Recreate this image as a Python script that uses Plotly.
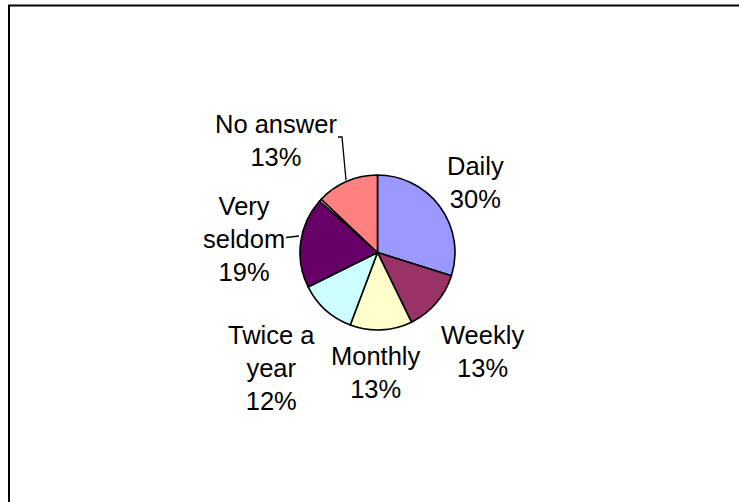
import plotly.graph_objects as go

# Survey: how often respondents use the service
categories = ["Daily", "Weekly", "Monthly", "Twice a year", "Very seldom", "", "No answer"]
values = [30, 13, 13, 12, 19, 0.5, 13]
label_lines = ["Daily", "Weekly", "Monthly", "Twice a<br>year", "Very<br>seldom", "", "No answer"]
colors = ["#9999FF", "#993366", "#FFFFCC", "#CCFFFF", "#660066", "#FFFFFF", "#FF8080"]

W, H = 739, 502


def px(x):
    return x / W


def py(y):
    return 1 - y / H


# pie placement in pixels
cx, cy, r = 377.5, 252.5, 77.5

# label anchor points (pixel centres of each text block)
label_pos = {
    "Daily": (475, 182),
    "Weekly": (482, 351),
    "Monthly": (376, 372),
    "Twice a year": (271, 368),
    "Very seldom": (244, 239),
    "No answer": (275.5, 140),
}

fig = go.Figure(
    go.Pie(
        labels=categories,
        values=values,
        marker=dict(colors=colors, line=dict(color="black", width=1.6)),
        sort=False,
        direction="clockwise",
        rotation=0,
        textinfo="none",
        hoverinfo="label+percent",
        showlegend=False,
        domain=dict(x=[px(cx - r), px(cx + r)], y=[py(cy + r), py(cy - r)]),
    )
)

annotations = []
for cat, lines, v in zip(categories, label_lines, values):
    if cat not in label_pos:
        continue
    x, y = label_pos[cat]
    annotations.append(
        dict(
            x=px(x), y=py(y), xref="paper", yref="paper",
            text=f"{lines}<br>{v:g}%", showarrow=False,
            xanchor="center", yanchor="middle", align="center",
            font=dict(family="Liberation Sans, Arial", size=25.5, color="black"),
        )
    )

shapes = [
    # chart frame
    dict(type="rect", xref="paper", yref="paper",
         x0=px(9), y0=py(5.5), x1=px(760), y1=py(520),
         line=dict(color="black", width=2)),
    # leader line for "No answer"
    dict(type="path", xref="paper", yref="paper",
         path=f"M {px(338)} {py(137)} L {px(342)} {py(137)} L {px(346)} {py(180)}",
         line=dict(color="black", width=1.3)),
    # leader line for "Very seldom"
    dict(type="line", xref="paper", yref="paper",
         x0=px(286), y0=py(237.5), x1=px(299), y1=py(236),
         line=dict(color="black", width=1.3)),
]

fig.update_layout(
    width=W, height=H,
    margin=dict(l=0, r=0, t=0, b=0),
    paper_bgcolor="white", plot_bgcolor="white",
    annotations=annotations,
    shapes=shapes,
)

fig.write_html("out.html")
